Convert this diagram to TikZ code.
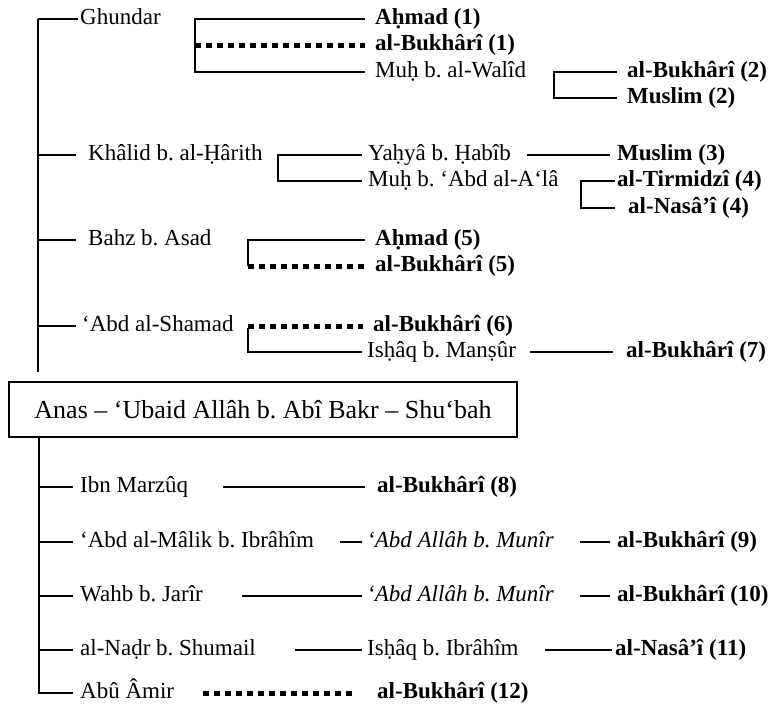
\documentclass[tikz,border=0pt]{standalone}
\usepackage{fontspec}
\setmainfont{Liberation Serif}
\frenchspacing
\begin{document}
\begin{tikzpicture}[x=1pt,y=-1pt,
  txt/.style={anchor=west,inner sep=0pt,text height=17pt,text depth=6pt,font=\fontsize{23}{27}\selectfont},
  bld/.style={txt,font=\fontsize{23}{27}\selectfont\bfseries},
  itl/.style={txt,font=\fontsize{23}{27}\selectfont\itshape},
  ln/.style={line width=1.3pt},
  dts/.style={line width=5pt,dash pattern=on 6pt off 5pt}
]
\useasboundingbox (0,0) rectangle (777,707);

% ---------- upper trunk ----------
\coordinate (t0) at (38,19);
\coordinate (t1) at (38,372);
\draw[ln] (t1) -- (t0);

% Ghundar
\node[txt] (ghundar) at (80,19) {Ghundar};
\draw[ln] (t0) -- ([xshift=-2pt]ghundar.west);
\coordinate (b1) at (195,19);
\node[bld] (ahmad1) at (375,19) {Aḥmad (1)};
\node[bld] (bukh1) at (375,45) {al-Bukhârî (1)};
\node[txt] (walid) at (375,72) {Muḥ b. al-Walîd};
\draw[ln] ([xshift=-10pt]ahmad1.west) -- (b1) -- (b1 |- walid.west) -- ([xshift=-10pt]walid.west);
\draw[dts] (b1 |- bukh1.west) -- ([xshift=-10pt]bukh1.west);
\coordinate (b2) at (554,72);
\node[bld] (bukh2) at (627,72) {al-Bukhârî (2)};
\node[bld] (muslim2) at (627,98) {Muslim (2)};
\draw[ln] ([xshift=-10pt]bukh2.west) -- (b2) -- (b2 |- muslim2.west) -- ([xshift=-10pt]muslim2.west);

% Khalid
\node[txt] (khalid) at (88,155) {Khâlid b. al-Ḥârith};
\draw[ln] (t0 |- khalid.west) -- ([xshift=-12pt]khalid.west);
\coordinate (b3) at (278,155);
\node[txt] (yahya) at (368,155) {Yaḥyâ b. Ḥabîb};
\node[txt] (muhabd) at (368,181) {Muḥ b. ‘Abd al-A‘lâ};
\draw[ln] ([xshift=-6pt]yahya.west) -- (b3) -- (b3 |- muhabd.west) -- ([xshift=-6pt]muhabd.west);
\coordinate (s3) at (527,155);
\node[bld] (muslim3) at (617,155) {Muslim (3)};
\draw[ln] (s3) -- ([xshift=-7pt]muslim3.west);
\coordinate (b4) at (581,181);
\node[bld] (tirm4) at (617,181) {al-Tirmidzî (4)};
\node[bld] (nasai4) at (628,208) {al-Nasâ’î (4)};
\draw[ln] ([xshift=-2pt]tirm4.west) -- (b4) -- (b4 |- nasai4.west) -- ([xshift=-13pt]nasai4.west);

% Bahz
\node[txt] (bahz) at (88,240) {Bahz b. Asad};
\draw[ln] (t0 |- bahz.west) -- ([xshift=-12pt]bahz.west);
\coordinate (b5) at (248,240);
\node[bld] (ahmad5) at (375,240) {Aḥmad (5)};
\node[bld] (bukh5) at (375,266) {al-Bukhârî (5)};
\draw[ln] ([xshift=-10pt]ahmad5.west) -- (b5) -- (b5 |- bukh5.west);
\draw[dts] (b5 |- bukh5.west) -- ([xshift=-11pt]bukh5.west);

% Abd al-Shamad
\node[txt] (shamad) at (82,326) {‘Abd al-Shamad};
\draw[ln] (t0 |- shamad.west) -- ([xshift=-6pt]shamad.west);
\coordinate (b6) at (248,326);
\node[bld] (bukh6) at (373,326) {al-Bukhârî (6)};
\node[txt] (ishaq1) at (367,352) {Isḥâq b. Manṣûr};
\draw[dts] (b6) -- ([xshift=-10pt]bukh6.west);
\draw[ln] ([yshift=-2pt]b6) -- (b6 |- ishaq1.west) -- ([xshift=-5pt]ishaq1.west);
\coordinate (s7) at (530,352);
\node[bld] (bukh7) at (626,352) {al-Bukhârî (7)};
\draw[ln] (s7) -- ([xshift=-13pt]bukh7.west);

% ---------- box ----------
\node[draw,line width=1.6pt,minimum width=508pt,minimum height=55pt,inner sep=0pt,
      font=\fontsize{26}{30}\selectfont] (box) at (263,409.5)
      {Anas – ‘Ubaid Allâh b. Abî Bakr – Shu‘bah};

% ---------- lower trunk ----------
\coordinate (u1) at (39,693);

% Ibn Marzuq
\node[txt] (ibn) at (80,487) {Ibn Marzûq};
\draw[ln] (u1 |- ibn.west) -- ([xshift=-7pt]ibn.west);
\coordinate (s8) at (223,487);
\node[bld] (bukh8) at (377,487) {al-Bukhârî (8)};
\draw[ln] (s8) -- ([xshift=-12pt]bukh8.west);

% Abd al-Malik
\node[txt] (malik) at (80,542) {‘Abd al-Mâlik b. Ibrâhîm};
\draw[ln] (u1 |- malik.west) -- ([xshift=-7pt]malik.west);
\coordinate (s9a) at (340,542);
\node[itl] (munir1) at (367,542) {‘Abd Allâh b. Munîr};
\draw[ln] (s9a) -- ([xshift=-5pt]munir1.west);
\coordinate (s9b) at (580,542);
\node[bld] (bukh9) at (617,542) {al-Bukhârî (9)};
\draw[ln] (s9b) -- ([xshift=-7pt]bukh9.west);

% Wahb
\node[txt] (wahb) at (80,596) {Wahb b. Jarîr};
\draw[ln] (u1 |- wahb.west) -- ([xshift=-7pt]wahb.west);
\coordinate (s10a) at (242,596);
\node[itl] (munir2) at (367,596) {‘Abd Allâh b. Munîr};
\draw[ln] (s10a) -- ([xshift=-5pt]munir2.west);
\coordinate (s10b) at (580,596);
\node[bld] (bukh10) at (617,596) {al-Bukhârî (10)};
\draw[ln] (s10b) -- ([xshift=-7pt]bukh10.west);

% al-Nadr
\node[txt] (nadr) at (80,650) {al-Naḍr b. Shumail};
\draw[ln] (u1 |- nadr.west) -- ([xshift=-7pt]nadr.west);
\coordinate (s11a) at (295,650);
\node[txt] (ishaq2) at (367,650) {Isḥâq b. Ibrâhîm};
\draw[ln] (s11a) -- ([xshift=-5pt]ishaq2.west);
\coordinate (s11b) at (545,650);
\node[bld] (nasai11) at (615,650) {al-Nasâ’î (11)};
\draw[ln] (s11b) -- ([xshift=-3pt]nasai11.west);

% Abu Amir
\node[txt] (amir) at (80,693) {Abû Âmir};
\draw[ln] (box.south -| u1) -- (u1) -- ([xshift=-7pt]amir.west);
\coordinate (s12) at (203,693);
\node[bld] (bukh12) at (377,693) {al-Bukhârî (12)};
\draw[dts] (s12) -- ([xshift=-22pt]bukh12.west);
\end{tikzpicture}
\end{document}
